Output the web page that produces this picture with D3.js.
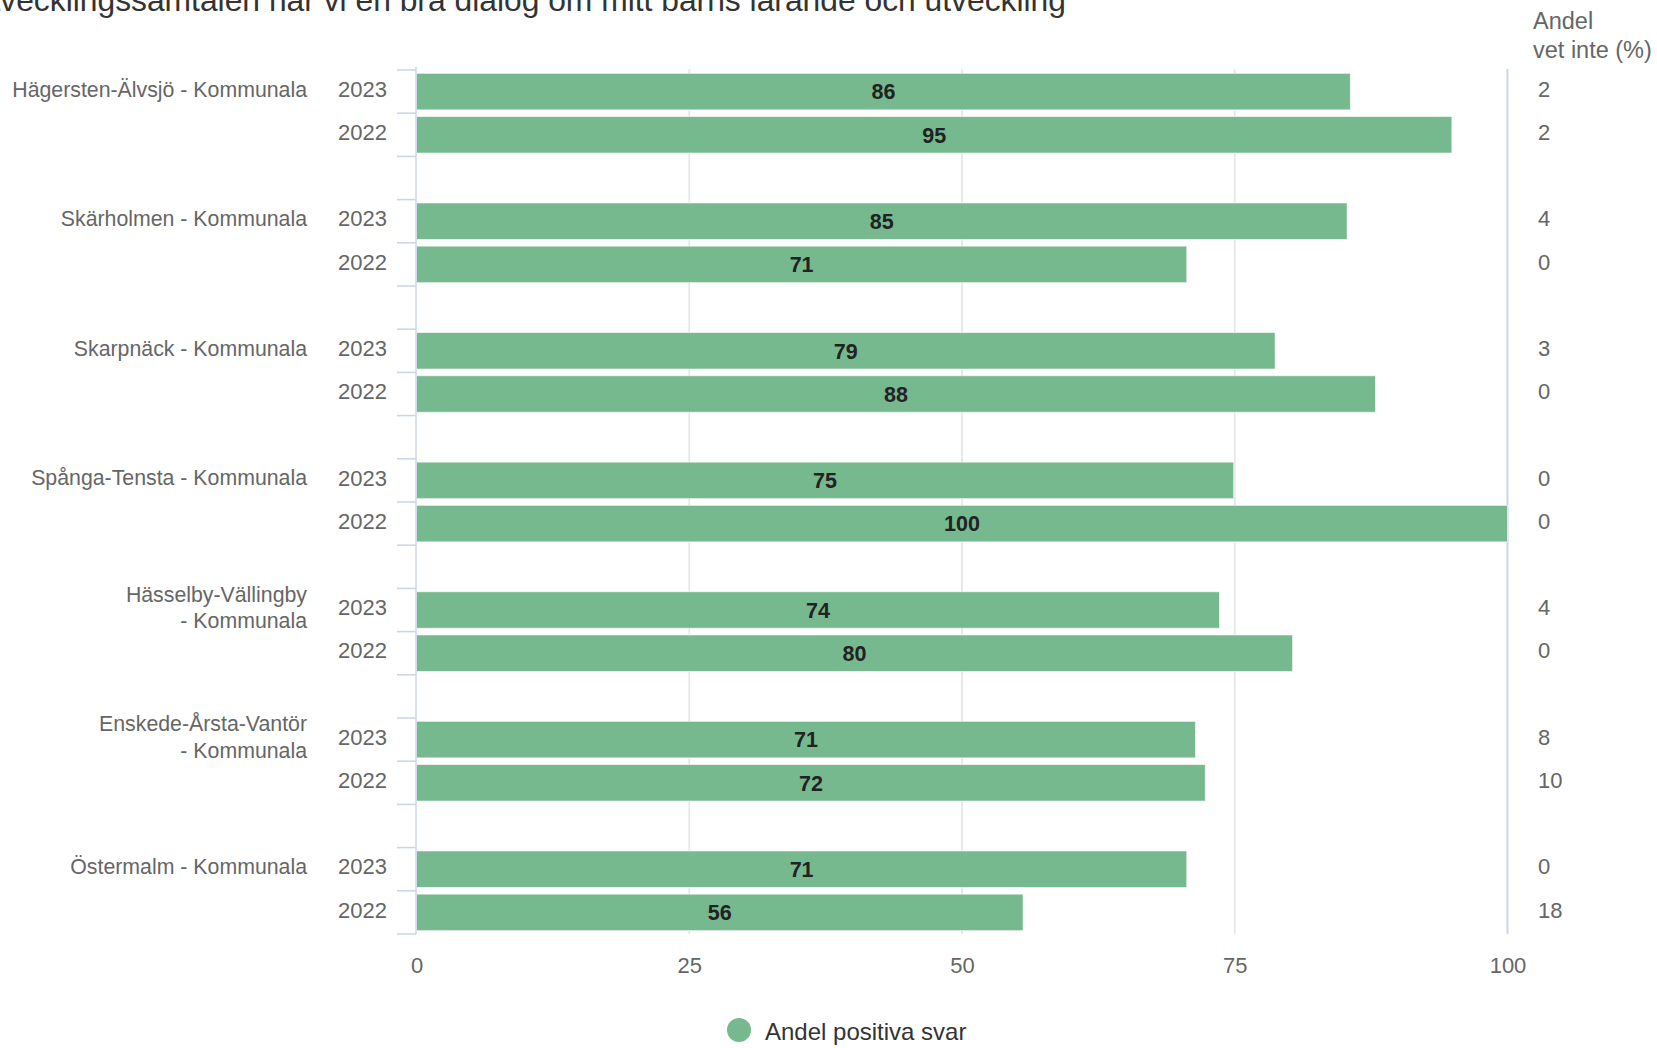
<!DOCTYPE html>
<html>
<head>
<meta charset="utf-8">
<script src="https://cdn.jsdelivr.net/npm/d3@7"></script>
<style>
  html, body { margin: 0; padding: 0; background: #ffffff; overflow: hidden; }
  svg { display: block; font-family: "Liberation Sans", Arial, Helvetica, sans-serif; }
</style>
</head>
<body>
<svg id="chart" width="1657" height="1048"></svg>
<script>
// ---------- data ----------
const titleText = "Under utvecklingssamtalen har vi en bra dialog om mitt barns lärande och utveckling";
const titleVisiblePart = "vecklingssamtalen har vi en bra dialog om mitt barns lärande och utveckling";
const groupLabels = [
  ["Hägersten-Älvsjö - Kommunala"],
  ["Skärholmen - Kommunala"],
  ["Skarpnäck - Kommunala"],
  ["Spånga-Tensta - Kommunala"],
  ["Hässelby-Vällingby", "- Kommunala"],
  ["Enskede-Årsta-Vantör", "- Kommunala"],
  ["Östermalm - Kommunala"]
];
const years = ["2023", "2022"];
const positive2023 = [85.6, 85.3, 78.7, 74.9, 73.6, 71.4, 70.6];
const positive2022 = [94.9, 70.6, 87.9, 100, 80.3, 72.3, 55.6];
const vetInte2023 = [2, 4, 3, 0, 4, 8, 0];
const vetInte2022 = [2, 0, 0, 0, 0, 10, 18];
const xTicks = [0, 25, 50, 75, 100];
const vetInteHeader = ["Andel", "vet inte (%)"];
const legendLabel = "Andel positiva svar";

// ---------- styling ----------
const barColor = "#76b98f";
const labelColor = "#666666";
const axisColor = "#ccd6eb";
const gridColor = "#e6e6e6";
const fs = 22;
const labelShift = -2.5;

const svg = d3.select("#chart");

// slots: 2023, 2022, gap per group (no gap after last)
const slots = [];
groupLabels.forEach((g, gi) => {
  years.forEach(y => slots.push(gi + "|" + y));
  if (gi < groupLabels.length - 1) slots.push(gi + "|gap");
});

const y = d3.scaleBand().domain(slots).range([70, 934]).padding(0);
const x = d3.scaleLinear().domain([0, 100]).range([416.5, 1507.5]);
const barH = y.bandwidth() * 0.845;

const records = [];
groupLabels.forEach((g, gi) => {
  records.push({ slot: gi + "|2023", year: "2023", value: positive2023[gi], vet: vetInte2023[gi] });
  records.push({ slot: gi + "|2022", year: "2022", value: positive2022[gi], vet: vetInte2022[gi] });
});

// ---------- title ----------
const probe = svg.append("text").attr("font-size", 28).text(titleVisiblePart);
const w = probe.node().getComputedTextLength();
probe.remove();
const titleSize = 28 * 1066 / w;
svg.append("text")
  .attr("x", 1066).attr("y", 10.5)
  .attr("text-anchor", "end")
  .attr("font-size", titleSize)
  .attr("fill", "#333333")
  .text(titleText);

// ---------- grid ----------
const yTop = 69, yBot = 934;
svg.append("g").selectAll("line")
  .data([25, 50, 75])
  .join("line")
  .attr("x1", d => x(d)).attr("x2", d => x(d))
  .attr("y1", yTop).attr("y2", yBot)
  .attr("stroke", gridColor).attr("stroke-width", 1.7);

// right line at 100
svg.append("line")
  .attr("x1", x(100)).attr("x2", x(100))
  .attr("y1", yTop).attr("y2", yBot)
  .attr("stroke", axisColor).attr("stroke-width", 2);

// ---------- bars ----------
svg.append("g").selectAll("rect")
  .data(records)
  .join("rect")
  .attr("x", x(0))
  .attr("y", d => y(d.slot) + (y.bandwidth() - barH) / 2)
  .attr("width", d => x(d.value) - x(0))
  .attr("height", barH)
  .attr("fill", barColor)
  .attr("stroke", "#ffffff")
  .attr("stroke-opacity", 0.6)
  .attr("stroke-width", 1);

// data labels
svg.append("g").selectAll("text")
  .data(records)
  .join("text")
  .attr("x", d => (x(0) + x(d.value)) / 2)
  .attr("y", d => y(d.slot) + y.bandwidth() / 2)
  .attr("dy", "0.36em")
  .attr("text-anchor", "middle")
  .attr("font-size", 21.5)
  .attr("font-weight", "bold")
  .attr("fill", "#222222")
  .text(d => Math.round(d.value));

// ---------- category axis ----------
svg.append("line")
  .attr("x1", 416).attr("x2", 416)
  .attr("y1", 67).attr("y2", yBot)
  .attr("stroke", axisColor).attr("stroke-width", 1.5);

const boundaries = slots.map(s => y(s)).concat([y(slots[slots.length - 1]) + y.bandwidth()]);
svg.append("g").selectAll("line")
  .data(boundaries)
  .join("line")
  .attr("x1", 397).attr("x2", 416)
  .attr("y1", d => d).attr("y2", d => d)
  .attr("stroke", axisColor).attr("stroke-width", 1.6);

// year labels via axis
const yearAxis = d3.axisLeft(y)
  .tickValues(records.map(r => r.slot))
  .tickSize(0)
  .tickPadding(0)
  .tickFormat(s => s.split("|")[1]);
const ya = svg.append("g").attr("transform", "translate(387," + labelShift + ")").call(yearAxis);
ya.select(".domain").remove();
ya.selectAll("text")
  .attr("font-size", fs)
  .attr("font-family", "Liberation Sans, Arial, sans-serif")
  .attr("fill", labelColor)
  .attr("dy", "0.35em");

// group labels
const gl = svg.append("g").selectAll("text")
  .data(groupLabels)
  .join("text")
  .attr("text-anchor", "end")
  .attr("font-size", 21.3)
  .attr("fill", labelColor)
  .attr("y", (d, i) => y(i + "|2023") + y.bandwidth() / 2 + labelShift);
gl.each(function (lines) {
  const t = d3.select(this);
  const n = lines.length;
  lines.forEach((ln, k) => {
    t.append("tspan")
      .attr("x", 307)
      .attr("dy", k === 0 ? (0.35 - (n - 1) * 0.63) + "em" : "1.26em")
      .text(ln);
  });
});

// vet inte column
svg.append("g").selectAll("text")
  .data(records)
  .join("text")
  .attr("x", 1538)
  .attr("y", d => y(d.slot) + y.bandwidth() / 2 + labelShift)
  .attr("dy", "0.35em")
  .attr("font-size", fs)
  .attr("fill", labelColor)
  .text(d => d.vet);

svg.append("g").selectAll("text")
  .data(vetInteHeader)
  .join("text")
  .attr("x", 1533)
  .attr("y", (d, i) => 28.5 + i * 29.5)
  .attr("font-size", 23.5)
  .attr("fill", labelColor)
  .text(d => d);

// ---------- x axis ----------
const xAxis = d3.axisBottom(x).tickValues(xTicks).tickSize(0).tickPadding(0).tickFormat(d3.format("d"));
const xa = svg.append("g").attr("transform", "translate(0,965)").call(xAxis);
xa.select(".domain").remove();
xa.selectAll("text")
  .attr("font-size", fs)
  .attr("font-family", "Liberation Sans, Arial, sans-serif")
  .attr("fill", labelColor)
  .attr("dy", "0.35em");

// ---------- legend ----------
svg.append("circle").attr("cx", 739).attr("cy", 1030).attr("r", 12).attr("fill", barColor);
svg.append("text")
  .attr("x", 765).attr("y", 1031).attr("dy", "0.36em")
  .attr("font-size", 24)
  .attr("fill", "#333333")
  .text(legendLabel);
</script>
</body>
</html>
